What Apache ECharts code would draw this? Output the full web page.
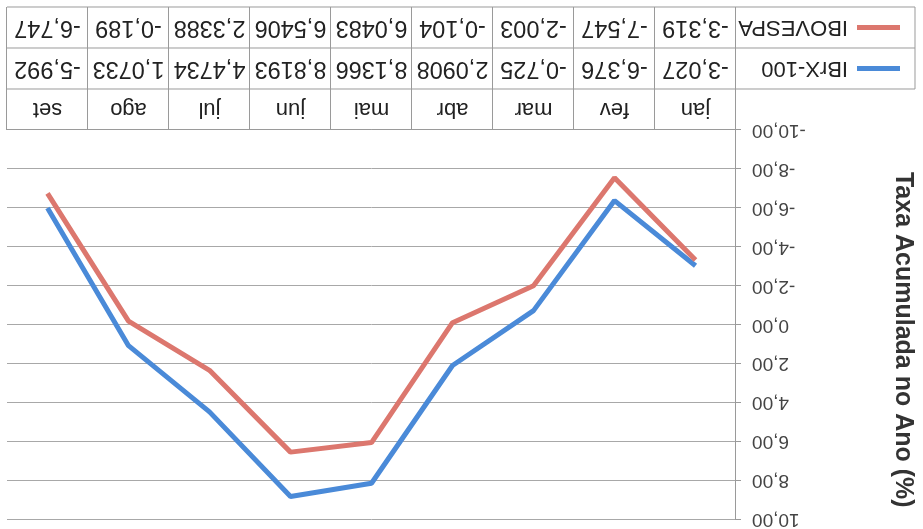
<!DOCTYPE html>
<html>
<head>
<meta charset="utf-8">
<script src="https://cdn.jsdelivr.net/npm/echarts@6/dist/echarts.min.js"></script>
<style>
	html, body { margin: 0; padding: 0; background: #fff; }
	/* the scanned reference is upside down, so the whole chart is turned */
	#chart { width: 923px; height: 529px; transform: rotate(180deg); }
</style>
</head>
<body>
<div id="chart"></div>
<script>
	var months = ['jan', 'fev', 'mar', 'abr', 'mai', 'jun', 'jul', 'ago', 'set'];
	var ibrx = [-3.027, -6.376, -0.725, 2.0908, 8.1366, 8.8193, 4.4734, 1.0733, -5.992];
	var ibov = [-3.319, -7.547, -2.003, -0.104, 6.0483, 6.5406, 2.3388, -0.189, -6.747];
	var seriesNames = ['IBrX-100', 'IBOVESPA'];
	var yMin = -10, yMax = 10, yStep = 2;

	var FONT = 'Liberation Sans';
	var gridLeft = 186, gridRight = 7, gridTop = 9, gridBottom = 130;
	var W = 923, H = 529;
	var rowH = 41;
	var tableTop = H - gridBottom;
	var legendLeft = 8;
	var borderColor = '#9a9a9a';

	function comma(v) {
		return String(v).replace('.', ',');
	}

	var chart = echarts.init(document.getElementById('chart'));

	function valueAxis(data, row) {
		return {
			type: 'category',
			position: 'bottom',
			offset: rowH * row,
			data: data.map(comma),
			axisLine: {show: false, onZero: false},
			axisTick: {show: false},
			axisLabel: {
				interval: 0,
				margin: 9,
				fontFamily: FONT,
				fontSize: 23.5,
				color: '#222'
			}
		};
	}

	var tableLines = [];
	for (var r = 1; r <= 3; r++) {
		tableLines.push({
			type: 'line',
			silent: true,
			shape: {x1: legendLeft, y1: tableTop + rowH * r, x2: W - gridRight, y2: tableTop + rowH * r},
			style: {stroke: borderColor, lineWidth: 1}
		});
	}
	tableLines.push({
		type: 'line',
		silent: true,
		shape: {x1: legendLeft, y1: tableTop + rowH, x2: legendLeft, y2: tableTop + rowH * 3},
		style: {stroke: borderColor, lineWidth: 1}
	});

	function legendRow(name, row) {
		return {
			data: [name],
			left: 23,
			top: tableTop + rowH * row + rowH / 2 - 11,
			padding: 0,
			icon: 'rect',
			itemWidth: 43,
			itemHeight: 5,
			selectedMode: false,
			textStyle: {
				fontFamily: FONT,
				fontSize: 22,
				color: '#222',
				padding: [0, 0, 0, 4]
			}
		};
	}

	chart.setOption({
		animation: false,
		backgroundColor: '#fff',
		grid: {
			left: gridLeft,
			right: gridRight,
			top: gridTop,
			bottom: gridBottom,
			containLabel: false
		},
		legend: [legendRow(seriesNames[0], 1), legendRow(seriesNames[1], 2)],
		xAxis: [
			{
				type: 'category',
				position: 'bottom',
				data: months,
				boundaryGap: true,
				axisLine: {show: true, onZero: false, lineStyle: {color: borderColor, width: 1}},
				axisTick: {
					show: true,
					interval: 0,
					length: rowH * 3,
					lineStyle: {color: borderColor, width: 1}
				},
				axisLabel: {
					interval: 0,
					margin: 10,
					fontFamily: FONT,
					fontSize: 22,
					color: '#222'
				}
			},
			valueAxis(ibrx, 1),
			valueAxis(ibov, 2)
		],
		yAxis: {
			type: 'value',
			min: yMin,
			max: yMax,
			interval: yStep,
			name: 'Taxa Acumulada no Ano (%)',
			nameLocation: 'middle',
			nameRotate: 90,
			nameGap: 154,
			nameTextStyle: {
				fontFamily: FONT,
				fontSize: 25,
				fontWeight: 'bold',
				color: '#333',
				padding: [0, 0, 0, 30]
			},
			axisLine: {show: true, lineStyle: {color: borderColor, width: 1}},
			axisTick: {show: true, length: 5, lineStyle: {color: borderColor}},
			axisLabel: {
				margin: 16,
				fontFamily: FONT,
				fontSize: 19,
				color: '#444',
				formatter: function (v) {
					return v.toFixed(2).replace('.', ',');
				}
			},
			splitLine: {show: true, lineStyle: {color: '#a8a8a8', width: 1}}
		},
		graphic: {elements: tableLines},
		series: [
			{
				name: seriesNames[0],
				type: 'line',
				data: ibrx,
				symbol: 'none',
				color: '#4a8ad8',
				lineStyle: {width: 5, color: '#4a8ad8'}
			},
			{
				name: seriesNames[1],
				type: 'line',
				data: ibov,
				symbol: 'none',
				color: '#dc776e',
				lineStyle: {width: 5, color: '#dc776e'}
			}
		]
	});
</script>
</body>
</html>
